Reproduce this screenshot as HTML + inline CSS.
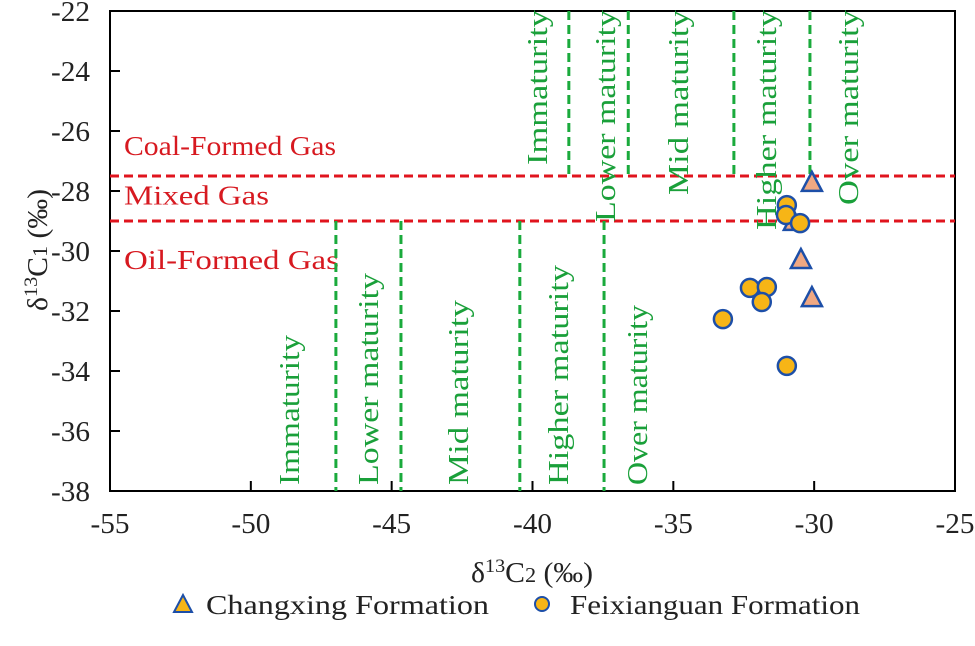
<!DOCTYPE html>
<html><head><meta charset="utf-8"><style>
body{margin:0;background:#fff;}
svg text{font-family:"Liberation Serif",serif;}
</style></head><body>
<svg width="975" height="641" xmlns="http://www.w3.org/2000/svg">
<g id="g"></g>
</svg>
<script>
const xTicks=[-55,-50,-45,-40,-35,-30,-25];
const yTicks=[-22,-24,-26,-28,-30,-32,-34,-36,-38];
const chX=[-30.08,-30.72,-30.47,-30.08];
const chY=[-27.73,-29.03,-30.3,-31.57];
const fxX=[-30.97,-31.0,-30.5,-32.28,-31.68,-31.86,-33.24,-30.97];
const fxY=[-28.47,-28.8,-29.07,-31.23,-31.2,-31.7,-32.27,-33.83];
const gasLines=[-27.5,-29];
const upperC2=[-38.71,-36.6,-32.85,-30.15];
const lowerC2=[-46.98,-44.67,-40.45,-37.46];
const matLabels=["Immaturity","Lower maturity","Mid maturity","Higher maturity","Over maturity"];
const X0=110,X1=955,Y0=11,Y1=491;
const sx=v=>X0+(v+55)/30*(X1-X0);
const sy=v=>Y0+(-22-v)/16*(Y1-Y0);
const NS="http://www.w3.org/2000/svg";
const g=document.getElementById('g');
function el(t,a,txt){const e=document.createElementNS(NS,t);for(const k in a)e.setAttribute(k,a[k]);if(txt!=null)e.textContent=txt;g.appendChild(e);return e;}
let e;
e=el('rect',{x:X0,y:Y0,width:X1-X0,height:Y1-Y0,fill:'none',stroke:'#000','stroke-width':2});


xTicks.forEach(v=>{
 e=el('line',{x1:sx(v),x2:sx(v),y1:Y1,y2:Y1-10,stroke:'#000','stroke-width':2});
 
 
 e=el('text',{x:sx(v),y:Y1+42,'text-anchor':'middle','font-size':29,fill:'#222',textLength:String(v).length*13,lengthAdjust:'spacingAndGlyphs'},String(v));
 
 
});
yTicks.forEach(v=>{
 e=el('line',{x1:X0,x2:X0+10,y1:sy(v),y2:sy(v),stroke:'#000','stroke-width':2});
 
 
 e=el('text',{x:X0-20,y:sy(v)+10,'text-anchor':'end','font-size':29,fill:'#222',textLength:39,lengthAdjust:'spacingAndGlyphs'},String(v));
 
 
});
gasLines.forEach(v=>{
 e=el('line',{x1:X0,x2:X1,y1:sy(v),y2:sy(v),stroke:'#e0141e','stroke-width':3,'stroke-dasharray':'9,5'});
 
 
});
[["Coal-Formed Gas",-26.8,212],["Mixed Gas",-28.45,145],["Oil-Formed Gas",-30.6,215]].forEach(([t,v,w])=>{
 e=el('text',{x:124,y:sy(v),'font-size':27,fill:'#d71920',textLength:w,lengthAdjust:'spacingAndGlyphs'},t);
 
 
});
function mat(arr,ya,yb,lblX,lens,yPos,anchor){
 arr.forEach(v=>{
  e=el('line',{x1:sx(v),x2:sx(v),y1:sy(ya),y2:sy(yb),stroke:'#1aaa3c','stroke-width':3,'stroke-dasharray':'9,5'});
  
  
 });
 lblX.forEach((x,i)=>{
  e=el('text',{x:0,y:0,'font-size':29,fill:'#1aa03a','text-anchor':anchor,textLength:lens[i],lengthAdjust:'spacingAndGlyphs',transform:`translate(${x+10} ${yPos}) rotate(-90)`},matLabels[i]);
  
  
 });
}
mat(upperC2,-22,-27.5,[537,605,678,766,848],[155,212,185,220,195],10,'end');
mat(lowerC2,-29,-38,[289,368,458,558,637],[150,212,185,220,180],485,'start');
chX.forEach((v,i)=>{
 const x=sx(v),y=sy(chY[i]);
 e=el('polygon',{points:`${x},${y-11} ${x-10},${y+8} ${x+10},${y+8}`,fill:'#f0a882',stroke:'#1d4fa8','stroke-width':2.5});
 
 
});
fxX.forEach((v,i)=>{
 e=el('circle',{cx:sx(v),cy:sy(fxY[i]),r:9,fill:'#f7b516',stroke:'#1d4fa8','stroke-width':2.5});
 
 
});
const yt=el('text',{x:0,y:0,'font-size':28,fill:'#222','text-anchor':'middle',textLength:122,lengthAdjust:'spacingAndGlyphs',transform:'translate(47 250) rotate(-90)'});


yt.innerHTML='δ<tspan dy="-10" font-size="19">13</tspan><tspan dy="10">C</tspan><tspan font-size="21">1</tspan> (‰)';
const xt=el('text',{x:532,y:582,'font-size':28,fill:'#222','text-anchor':'middle',textLength:122,lengthAdjust:'spacingAndGlyphs'});


xt.innerHTML='δ<tspan dy="-10" font-size="19">13</tspan><tspan dy="10">C</tspan><tspan font-size="21">2</tspan> (‰)';
e=el('polygon',{points:'183,595 174,612 192,612',fill:'#f7b516',stroke:'#1d4fa8','stroke-width':2});


e=el('text',{x:206,y:614,'font-size':27,fill:'#222',textLength:283,lengthAdjust:'spacingAndGlyphs'},'Changxing Formation');


e=el('circle',{cx:542,cy:604,r:7,fill:'#f7b516',stroke:'#1d4fa8','stroke-width':2});


e=el('text',{x:570,y:614,'font-size':27,fill:'#222',textLength:290,lengthAdjust:'spacingAndGlyphs'},'Feixianguan Formation');


</script>
</body></html>
